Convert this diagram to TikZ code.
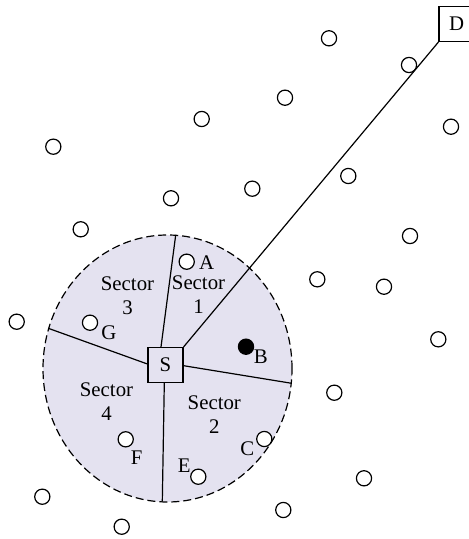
\documentclass[tikz,border=0pt]{standalone}
\usepackage{fontspec}
\setmainfont{Liberation Serif}
\definecolor{zonefill}{RGB}{228,226,240}
\begin{document}
\begin{tikzpicture}[x=0.5pt,y=-0.5pt,line width=0.6pt,
  relay/.style={circle,draw,fill=white,inner sep=0pt,minimum size=7.6pt},
  target/.style={circle,draw,fill=black,inner sep=0pt,minimum size=7.6pt},
  station/.style={draw,inner sep=0pt,minimum size=17.5pt,font=\fontsize{10.4}{12}\selectfont},
  tag/.style={inner sep=0pt,font=\fontsize{10.4}{12}\selectfont},
  sectorlabel/.style={tag,align=center}]
\useasboundingbox (0,0) rectangle (469,539);
\clip (0,0) rectangle (469,539);

% coverage zone
\fill[zonefill] (167.5,368.5) ellipse [x radius=62.25pt,y radius=66.75pt];

% nodes inside the zone
\node[relay] (A) at (186.7,261.7) {};
\node[relay] (G) at (90,322.7) {};
\node[target] (B) at (246,346.7) {};
\node[relay] (F) at (125.7,439.3) {};
\node[relay] (E) at (198.3,476.7) {};
\node[relay] (C) at (264.3,439) {};

% nodes outside the zone
\node[relay] (n1) at (329,38.3) {};
\node[relay] (n2) at (409,65) {};
\node[relay] (n3) at (285,97.7) {};
\node[relay] (n4) at (451,126.7) {};
\node[relay] (n5) at (201.7,119) {};
\node[relay] (n6) at (53.3,146.7) {};
\node[relay] (n7) at (348.3,176) {};
\node[relay] (n8) at (252.3,188.7) {};
\node[relay] (n9) at (171,198.3) {};
\node[relay] (n10) at (80.7,229.3) {};
\node[relay] (n11) at (410,236) {};
\node[relay] (n12) at (317.3,279.3) {};
\node[relay] (n13) at (384,286.7) {};
\node[relay] (n14) at (16.7,321.7) {};
\node[relay] (n15) at (438.3,339.3) {};
\node[relay] (n16) at (334.3,392.7) {};
\node[relay] (n17) at (364,478.3) {};
\node[relay] (n18) at (42.3,496.7) {};
\node[relay] (n19) at (283.3,510) {};
\node[relay] (n20) at (121.7,526.7) {};

% zone boundary
\draw[dash pattern=on 4pt off 2pt] (167.5,368.5) ellipse [x radius=62.25pt,y radius=66.75pt];

% source and destination
\node[station,fill=zonefill] (S) at (165.5,365) {S};
\node[station,fill=white] (D) at (456.5,24) {D};

% sector borders
\coordinate (b1) at (175.7,235);
\coordinate (b2) at (291.7,383.3);
\coordinate (b3) at (162.3,501.7);
\coordinate (b4) at (48.3,328.3);
\draw ([xshift=-2.25pt]S.north) -- (b1);
\draw ([yshift=-0.35pt]S.east) -- (b2);
\draw ([xshift=-0.6pt]S.south) -- (b3);
\draw ([yshift=0.5pt]S.west) -- (b4);

% route to destination
\draw (S.north east) -- (D.south west);

% point labels
\node[tag] (lA) at (206.7,262.7) {A};
\node[tag] (lG) at (109,332.7) {G};
\node[tag] (lB) at (260.7,357) {B};
\node[tag] (lF) at (136.7,457.3) {F};
\node[tag] (lE) at (184.3,465.7) {E};
\node[tag] (lC) at (247.3,449) {C};

% sector labels
\node[sectorlabel] (s1) at (198.5,294.5) {Sector\\1};
\node[sectorlabel] (s2) at (214.3,414.7) {Sector\\2};
\node[sectorlabel] (s3) at (127.5,295.5) {Sector\\3};
\node[sectorlabel] (s4) at (106.5,402) {Sector\\4};
\end{tikzpicture}
\end{document}
